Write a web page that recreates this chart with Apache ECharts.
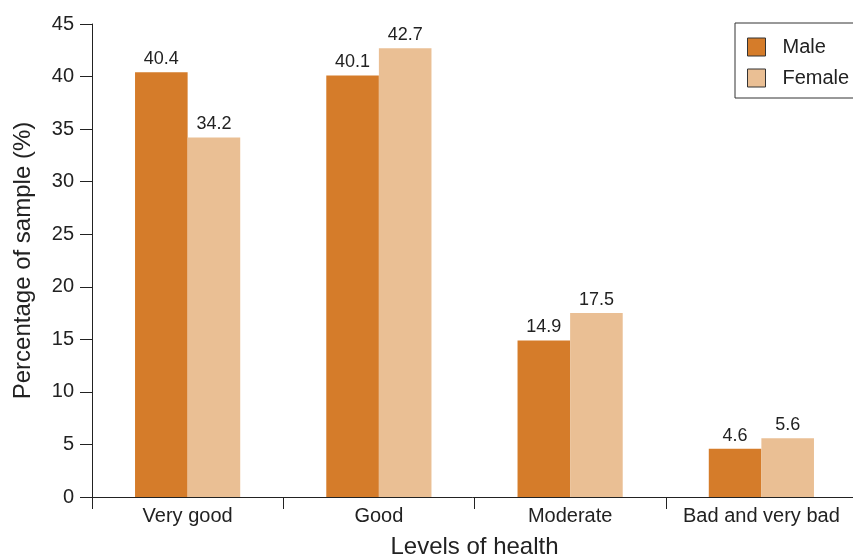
<!DOCTYPE html>
<html>
<head>
<meta charset="utf-8">
<script src="https://cdn.jsdelivr.net/npm/echarts@6/dist/echarts.min.js"></script>
<style>
  html, body { margin: 0; padding: 0; background: #fff; }
  #chart { width: 853px; height: 556px; }
</style>
</head>
<body>
<div id="chart"></div>
<script>
// Self-rated health by sex
const categories = ['Very good', 'Good', 'Moderate', 'Bad and very bad'];
const maleValues = [40.4, 40.1, 14.9, 4.6];
const femaleValues = [34.2, 42.7, 17.5, 5.6];
const seriesNames = ['Male', 'Female'];

const FONT = '"Liberation Sans", Arial, sans-serif';
const TEXT = '#222';

const chart = echarts.init(document.getElementById('chart'), null, { renderer: 'canvas' });

const labelStyle = {
  show: true,
  position: 'top',
  distance: 4,
  color: TEXT,
  fontFamily: FONT,
  fontSize: 18
};

chart.setOption({
  animation: false,
  backgroundColor: '#fff',
  textStyle: { fontFamily: FONT },
  grid: { left: 92, right: -4, top: 24, bottom: 59, containLabel: false, outerBoundsMode: 'none' },
  legend: {
    data: seriesNames,
    orient: 'vertical',
    left: 735,
    top: 23,
    padding: [14, 40, 10, 12],
    itemGap: 11,
    itemWidth: 18,
    itemHeight: 18,
    borderColor: '#333',
    borderWidth: 1,
    borderRadius: 0,
    textStyle: { color: TEXT, fontSize: 20, fontFamily: FONT, padding: [0, 0, 0, 12] },
    itemStyle: { borderColor: '#333', borderWidth: 1 },
    icon: 'rect'
  },
  xAxis: {
    type: 'category',
    data: categories,
    name: 'Levels of health',
    nameLocation: 'middle',
    nameGap: 38,
    nameTextStyle: { color: TEXT, fontSize: 24, fontFamily: FONT },
    axisLine: { lineStyle: { color: '#222', width: 1 } },
    axisTick: { show: true, length: 12, inside: false, lineStyle: { color: '#222' } },
    axisLabel: { color: TEXT, fontSize: 20, fontFamily: FONT, margin: 9, interval: 0, hideOverlap: false }
  },
  yAxis: {
    type: 'value',
    min: 0,
    max: 45,
    interval: 5,
    name: 'Percentage of sample (%)',
    nameLocation: 'middle',
    nameGap: 57,
    nameRotate: 90,
    nameTextStyle: { color: TEXT, fontSize: 24, fontFamily: FONT },
    axisLine: { show: true, lineStyle: { color: '#222', width: 1 } },
    axisTick: { show: true, length: 12, lineStyle: { color: '#222' } },
    axisLabel: { color: TEXT, fontSize: 20, fontFamily: FONT, margin: 18 },
    splitLine: { show: false }
  },
  series: [
    {
      name: seriesNames[0],
      type: 'bar',
      data: maleValues,
      barGap: '0%',
      barCategoryGap: '45%',
      itemStyle: { color: '#D57C2A' },
      label: labelStyle
    },
    {
      name: seriesNames[1],
      type: 'bar',
      data: femaleValues,
      itemStyle: { color: '#EABF94' },
      label: labelStyle
    }
  ]
});
</script>
</body>
</html>
